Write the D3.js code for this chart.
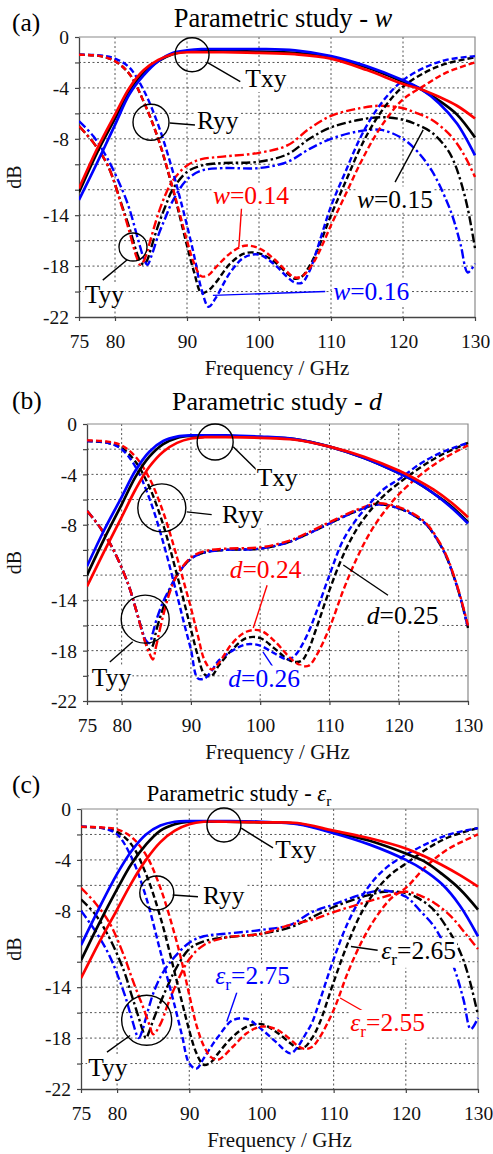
<!DOCTYPE html>
<html><head><meta charset="utf-8">
<script src="https://cdn.jsdelivr.net/npm/d3@7"></script>
<style>
body{margin:0;background:#fff}
svg{display:block}
text{font-family:"Liberation Serif","Times New Roman",serif}
</style>
</head><body>
<svg id="chart" width="493" height="1154"></svg>
<script>
// ---------------- DATA ----------------
const xTicks = [75, 80, 90, 100, 110, 120, 130];
const xGrid = [80, 90, 100, 110, 120];
const yGrid = [-2, -4, -6, -8, -10, -12, -14, -16, -18, -20];
const yTickMarks = [0, -2, -4, -6, -8, -10, -12, -14, -16, -18, -20, -22];
const yTickLabels = [0, -4, -8, -14, -18, -22];
const seriesColors = ["black", "blue", "red"];

const freqTxy = [75, 77.5, 80, 82, 84, 86, 88, 90, 92, 95, 100, 105, 110, 115, 120, 122.5, 125, 127.5, 130];
const freqRyy = [75, 78, 80, 82, 84, 86, 88, 89, 90, 91, 92, 93, 94, 96, 98, 100, 102, 104, 105, 106, 107, 108, 110, 112, 114, 116, 118, 120, 123, 126, 130];
const freqTyy = [75, 77, 79, 81, 82, 83, 83.5, 84, 84.5, 85, 86, 87, 88, 90, 92, 95, 100, 104, 107, 110, 114, 117, 120, 122, 124, 126, 127, 128, 129, 130];

// (a) parametric study - w   (red 0.14, black 0.15, blue 0.16)
const txyA_red   = [-11.9,-8.8,-6.1,-4.0,-2.6,-1.8,-1.35,-1.2,-1.2,-1.2,-1.25,-1.35,-1.7,-2.6,-3.7,-4.1,-4.7,-5.4,-6.4];
const txyA_black = [-12.2,-9.1,-6.4,-4.2,-2.8,-1.9,-1.35,-1.15,-1.1,-1.1,-1.15,-1.25,-1.6,-2.4,-3.5,-4.1,-5.0,-6.1,-7.9];
const txyA_blue  = [-12.8,-9.9,-6.9,-4.5,-3.0,-1.9,-1.25,-1.05,-0.95,-0.95,-0.95,-1.05,-1.5,-2.3,-3.4,-4.1,-5.2,-6.8,-9.3];
const ryyA_red   = [-1.4,-1.5,-1.9,-2.9,-5.1,-8.0,-11.8,-13.9,-16.0,-17.8,-18.8,-18.7,-18.1,-17.0,-16.4,-16.6,-17.4,-18.5,-18.9,-18.8,-18.2,-17.3,-14.8,-12.4,-10.0,-7.9,-6.2,-4.9,-3.8,-2.8,-2.0];
const ryyA_black = [-1.4,-1.5,-1.9,-2.9,-5.1,-8.0,-11.9,-14.1,-16.4,-18.5,-20.1,-19.9,-19.3,-17.8,-17.0,-17.0,-17.6,-18.6,-19.0,-18.8,-18.0,-16.9,-14.0,-11.4,-8.8,-6.7,-5.1,-3.9,-2.8,-2.1,-1.6];
const ryyA_blue  = [-1.4,-1.45,-1.7,-2.4,-4.2,-6.9,-10.5,-12.6,-14.8,-17.2,-19.8,-21.2,-20.5,-18.5,-17.3,-17.1,-17.8,-18.9,-19.3,-19.3,-18.4,-16.8,-13.3,-10.6,-8.0,-6.0,-4.5,-3.4,-2.4,-1.8,-1.5];
const tyyA_red   = [-7.0,-8.3,-10.1,-13.4,-15.3,-17.3,-17.9,-17.6,-16.8,-15.8,-13.9,-12.4,-11.3,-10.1,-9.6,-9.4,-9.1,-8.5,-7.2,-6.2,-5.6,-5.4,-5.6,-6.0,-6.5,-7.4,-8.0,-8.8,-9.8,-11.0];
const tyyA_black = [-7.0,-8.3,-10.1,-13.3,-15.0,-16.9,-17.6,-17.9,-17.5,-16.6,-14.8,-13.3,-12.0,-10.6,-10.1,-9.9,-9.8,-9.2,-8.0,-7.1,-6.5,-6.3,-6.5,-6.9,-7.5,-8.7,-9.7,-11.3,-13.5,-16.6];
const tyyA_blue  = [-6.6,-7.8,-9.6,-12.0,-13.5,-15.5,-16.5,-17.4,-17.9,-17.3,-15.6,-14.2,-12.9,-11.2,-10.5,-10.3,-10.3,-9.8,-8.8,-8.0,-7.4,-7.3,-8.0,-9.0,-10.5,-12.8,-14.3,-16.3,-18.5,-17.8];

// (b) parametric study - d   (red 0.24, black 0.25, blue 0.26)
const txyB_red   = [-12.9,-10.1,-7.4,-5.2,-3.4,-2.2,-1.5,-1.15,-1.05,-1.05,-1.1,-1.25,-1.8,-2.6,-3.7,-4.4,-5.2,-6.2,-7.4];
const txyB_black = [-12.0,-9.1,-6.4,-4.2,-2.6,-1.6,-1.1,-0.95,-0.95,-0.95,-1.05,-1.2,-1.8,-2.7,-3.9,-4.6,-5.5,-6.5,-7.8];
const txyB_blue  = [-11.3,-8.4,-5.8,-3.7,-2.2,-1.35,-1.0,-0.9,-0.9,-0.9,-1.0,-1.2,-1.8,-2.7,-3.9,-4.6,-5.5,-6.6,-7.9];
const ryyB_red   = [-1.3,-1.4,-1.7,-2.6,-4.3,-7.0,-10.6,-12.6,-14.6,-16.8,-18.8,-19.5,-19.0,-17.4,-16.5,-16.4,-17.2,-18.4,-18.9,-19.2,-19.2,-18.5,-16.2,-13.2,-10.6,-8.5,-6.9,-5.6,-4.1,-2.9,-1.7];
const ryyB_black = [-1.35,-1.5,-1.9,-3.0,-5.0,-8.0,-12.0,-14.1,-16.3,-18.4,-19.9,-20.0,-19.2,-17.9,-17.0,-17.0,-17.8,-18.7,-18.9,-18.8,-17.9,-16.4,-13.2,-10.4,-8.3,-6.8,-5.6,-4.7,-3.5,-2.5,-1.5];
const ryyB_blue  = [-1.35,-1.5,-2.0,-3.4,-5.9,-9.4,-13.6,-15.8,-17.9,-20.2,-20.2,-19.6,-18.8,-18.0,-17.5,-17.6,-18.2,-18.7,-18.4,-17.6,-16.5,-15.1,-12.0,-9.2,-7.5,-6.2,-5.1,-4.4,-3.2,-2.3,-1.5];
const tyyB_red   = [-6.9,-8.3,-10.2,-12.8,-14.6,-16.6,-17.5,-18.2,-18.7,-17.6,-15.2,-13.3,-12.0,-10.6,-10.1,-9.9,-9.8,-9.3,-8.6,-7.8,-6.8,-6.3,-6.6,-7.1,-7.9,-9.5,-10.6,-12.1,-13.9,-16.0];
const tyyB_black = [-6.9,-8.3,-10.2,-12.8,-14.6,-16.5,-17.4,-17.9,-17.6,-16.4,-14.6,-13.1,-12.0,-10.7,-10.2,-10.0,-9.9,-9.4,-8.7,-7.9,-6.9,-6.4,-6.7,-7.2,-8.0,-9.6,-10.7,-12.2,-14.0,-16.2];
const tyyB_blue  = [-6.9,-8.3,-10.2,-12.8,-14.6,-16.5,-17.2,-17.4,-16.6,-15.6,-14.1,-13.0,-12.0,-10.7,-10.2,-10.0,-9.9,-9.4,-8.7,-7.9,-6.9,-6.4,-6.7,-7.2,-8.0,-9.6,-10.7,-12.2,-14.0,-16.2];

// (c) parametric study - eps_r   (red 2.55, black 2.65, blue 2.75)
const txyC_red   = [-13.3,-10.5,-7.9,-5.8,-4.0,-2.6,-1.7,-1.2,-1.0,-1.0,-1.05,-1.1,-1.7,-2.3,-3.1,-3.7,-4.4,-5.2,-6.1];
const txyC_black = [-11.9,-9.0,-6.3,-4.3,-2.8,-1.7,-1.2,-1.0,-1.0,-1.0,-1.05,-1.15,-1.8,-2.5,-3.5,-4.1,-5.1,-6.3,-7.9];
const txyC_blue  = [-10.7,-7.8,-5.1,-3.3,-2.0,-1.3,-1.0,-0.95,-0.95,-0.95,-1.0,-1.2,-1.9,-2.8,-4.0,-4.8,-5.9,-7.6,-10.0];
const ryyC_red   = [-1.4,-1.45,-1.6,-2.2,-3.6,-6.2,-9.9,-12.1,-14.6,-17.0,-18.6,-19.5,-19.7,-18.7,-17.6,-17.1,-17.3,-18.1,-18.6,-18.85,-18.7,-18.0,-15.8,-12.8,-10.3,-8.4,-7.0,-6.2,-4.4,-3.1,-2.0];
const ryyC_black = [-1.4,-1.5,-1.8,-2.8,-5.1,-8.5,-12.9,-15.2,-17.4,-19.2,-20.1,-19.9,-19.2,-17.9,-17.1,-16.9,-17.5,-18.4,-18.8,-18.7,-18.0,-16.9,-13.6,-10.5,-8.0,-6.3,-5.1,-4.3,-3.1,-2.2,-1.5];
const ryyC_blue  = [-1.4,-1.5,-2.0,-3.8,-6.9,-11.2,-15.5,-17.8,-20.0,-20.4,-19.6,-18.7,-17.9,-16.6,-16.5,-17.3,-18.3,-19.2,-18.7,-17.8,-16.8,-15.2,-11.8,-8.9,-6.8,-5.3,-4.3,-3.6,-2.7,-2.0,-1.5];
const tyyC_red   = [-6.2,-7.4,-9.0,-11.6,-13.2,-14.7,-15.4,-16.2,-17.0,-17.7,-16.9,-15.4,-14.0,-11.8,-10.7,-10.1,-9.8,-9.1,-8.7,-8.1,-7.4,-6.9,-6.5,-6.8,-7.4,-8.3,-8.9,-9.6,-10.3,-11.0];
const tyyC_black = [-7.1,-8.3,-10.2,-12.8,-14.6,-16.4,-17.3,-18.0,-17.4,-16.6,-15.2,-13.9,-12.7,-11.0,-10.4,-10.1,-9.8,-9.3,-8.5,-7.7,-6.9,-6.5,-6.6,-7.1,-8.0,-9.6,-10.6,-11.9,-13.8,-16.2];
const tyyC_blue  = [-8.0,-9.6,-11.6,-14.5,-16.4,-18.0,-17.4,-16.4,-15.4,-14.5,-13.2,-12.3,-11.6,-10.5,-10.0,-9.8,-9.5,-9.1,-8.1,-7.5,-6.7,-6.4,-6.9,-8.0,-9.3,-11.5,-13.0,-15.0,-17.3,-16.4];

// ---------------- LAYOUT / STYLE ----------------
const COLORS = {black: "#000000", blue: "#0000ff", red: "#ff0000"};
const FONT_TICK = 19.5, FONT_ANN = 25.5;

const panels = [
  {label: "(a)", labelBase: 31, l: 79, t: 37, r: 475, b: 317,
   titleMain: "Parametric study - ", titleVar: [["w", "i"]], titleX: 283, titleBase: 27, titleSize: 26.5,
   txy: [txyA_black, txyA_blue, txyA_red], ryy: [ryyA_black, ryyA_blue, ryyA_red], tyy: [tyyA_black, tyyA_blue, tyyA_red],
   circles: [[90.7, -1.4, 17], [85.0, -6.7, 18], [82.5, -16.5, 14]],
   leaders: [[92.8, -2.0, 97.4, -3.5, "black"], [87.6, -6.76, 91.1, -6.91, "black"], [81.7, -17.5, 78.3, -19.1, "black"],
             [97.6, -13.2, 97.2, -16.5, "red"], [122.8, -7.3, 118.9, -11.4, "black"], [93.6, -20.3, 109.2, -20.0, "blue"]],
   texts: [{f: 98.1, v: -3.93, c: "black", parts: [["Txy"]]},
           {f: 91.4, v: -7.23, c: "black", parts: [["Ryy"]]},
           {f: 75.8, v: -20.9, c: "black", parts: [["Tyy"]]},
           {f: 93.6, v: -13.1, c: "red", parts: [["w", "i"], ["=0.14"]]},
           {f: 113.6, v: -13.4, c: "black", parts: [["w", "i"], ["=0.15"]]},
           {f: 110.3, v: -20.7, c: "blue", parts: [["w", "i"], ["=0.16"]]}]},
  {label: "(b)", labelBase: 409, l: 87, t: 424, r: 468, b: 701,
   titleMain: "Parametric study - ", titleVar: [["d", "i"]], titleX: 277, titleBase: 410, titleSize: 26,
   txy: [txyB_black, txyB_blue, txyB_red], ryy: [ryyB_black, ryyB_blue, ryyB_red], tyy: [tyyB_black, tyyB_blue, tyyB_red],
   circles: [[93.5, -1.43, 18], [85.8, -6.66, 24], [83.4, -15.5, 24]],
   leaders: [[96.1, -1.8, 99.5, -3.65, "black"], [89.4, -6.98, 93.0, -7.2, "black"], [81.6, -17.3, 78.3, -18.9, "black"],
             [101.0, -12.8, 99.0, -16.2, "red"], [112.0, -11.2, 118.45, -13.6, "black"], [102.1, -19.5, 100.4, -18.1, "blue"]],
   texts: [{f: 99.5, v: -4.9, c: "black", parts: [["Txy"]]},
           {f: 94.5, v: -7.9, c: "black", parts: [["Ryy"]]},
           {f: 75.7, v: -20.8, c: "black", parts: [["Tyy"]]},
           {f: 95.6, v: -12.2, c: "red", parts: [["d", "i"], ["=0.24"]]},
           {f: 115.4, v: -15.9, c: "black", parts: [["d", "i"], ["=0.25"]]},
           {f: 95.4, v: -20.85, c: "blue", parts: [["d", "i"], ["=0.26"]]}]},
  {label: "(c)", labelBase: 793, l: 81, t: 809, r: 478, b: 1089,
   titleMain: "Parametric study - ", titleVar: [["ε", "i"], ["r", "sub"]], titleX: 239, titleBase: 801, titleSize: 22.5,
   txy: [txyC_black, txyC_blue, txyC_red], ryy: [ryyC_black, ryyC_blue, ryyC_red], tyy: [tyyC_black, tyyC_blue, tyyC_red],
   circles: [[94.8, -1.26, 17], [85.5, -6.6, 17], [84.1, -16.6, 25]],
   leaders: [[97.2, -1.5, 101.6, -3.06, "black"], [87.7, -6.76, 91.2, -6.9, "black"], [81.8, -17.8, 78.6, -19.1, "black"],
             [96.6, -14.4, 95.2, -16.7, "blue"], [110.9, -14.85, 114.3, -15.95, "red"], [112.4, -10.8, 116.1, -11.1, "black"]],
   texts: [{f: 101.9, v: -3.85, c: "black", parts: [["Txy"]]},
           {f: 91.9, v: -7.46, c: "black", parts: [["Ryy"]]},
           {f: 76.0, v: -20.98, c: "black", parts: [["Tyy"]]},
           {f: 93.6, v: -13.75, c: "blue", parts: [["ε", "i"], ["r", "sub"], ["=2.75"]]},
           {f: 112.3, v: -17.44, c: "red", parts: [["ε", "i"], ["r", "sub"], ["=2.55"]]},
           {f: 116.6, v: -11.8, c: "black", parts: [["ε", "i"], ["r", "sub"], ["=2.65"]]}]}
];

const svg = d3.select("#chart");

function addParts(textSel, parts, size) {
  let shift = 0;
  parts.forEach(([s, st]) => {
    const ts = textSel.append("tspan").text(s);
    if (st === "i") ts.attr("font-style", "italic");
    if (st === "sub") { ts.attr("font-size", size * 0.68).attr("dy", size * 0.22); shift += size * 0.22; }
    else if (shift) { ts.attr("dy", -shift); shift = 0; }
  });
}

panels.forEach((p, pi) => {
  const x = d3.scaleLinear().domain([75, 130]).range([p.l, p.r]);
  const y = d3.scaleLinear().domain([0, -22]).range([p.t, p.b]);
  const g = svg.append("g");

  // panel label & title
  g.append("text").attr("x", 12).attr("y", p.labelBase).attr("font-size", 25.5).text(p.label);
  const tt = g.append("text").attr("x", p.titleX).attr("y", p.titleBase).attr("text-anchor", "middle")
    .attr("font-size", p.titleSize);
  tt.append("tspan").text(p.titleMain);
  addParts(tt, p.titleVar, p.titleSize);

  // grid
  g.selectAll(null).data(xGrid).join("line")
    .attr("x1", d => x(d)).attr("x2", d => x(d)).attr("y1", y(0)).attr("y2", y(-22))
    .attr("stroke", "#555").attr("stroke-width", 1).attr("stroke-dasharray", "2,2.5");
  g.selectAll(null).data(yGrid).join("line")
    .attr("x1", x(75)).attr("x2", x(130)).attr("y1", d => y(d)).attr("y2", d => y(d))
    .attr("stroke", "#555").attr("stroke-width", 1).attr("stroke-dasharray", "2,2.5");
  // frame top/right
  g.append("path").attr("d", `M${x(75)},${y(0)}H${x(130)}V${y(-22)}`)
    .attr("fill", "none").attr("stroke", "#8a8a8a").attr("stroke-width", 1.2);

  // axes
  const xa = g.append("g").attr("transform", `translate(0,${p.b})`)
    .call(d3.axisBottom(x).tickValues(xTicks).tickSize(4).tickSizeOuter(0).tickFormat(d => String(d)));
  const ya = g.append("g").attr("transform", `translate(${p.l},0)`)
    .call(d3.axisLeft(y).tickValues(yTickMarks).tickSize(4).tickSizeOuter(0)
      .tickFormat(d => yTickLabels.includes(d) ? String(d) : ""));
  [xa, ya].forEach(a => {
    a.select(".domain").attr("stroke", "#444").attr("stroke-width", 1.3);
    a.selectAll(".tick line").attr("stroke", "#444").attr("stroke-width", 1.2);
    a.selectAll("text").attr("font-family", "Liberation Serif").attr("font-size", FONT_TICK).attr("fill", "#111");
  });
  xa.selectAll("text").attr("dy", null).attr("y", 31);
  ya.selectAll("text").attr("x", -10).attr("dy", "0.34em");

  g.append("text").attr("x", (p.l + p.r) / 2).attr("y", p.b + 58).attr("text-anchor", "middle")
    .attr("font-size", 21).attr("fill", "#111").text("Frequency / GHz");
  g.append("text").attr("transform", `translate(21,${(p.t + p.b) / 2}) rotate(-90)`)
    .attr("text-anchor", "middle").attr("font-size", 20).attr("fill", "#111").text("dB");

  // curves
  const clipId = "clip" + pi;
  svg.append("clipPath").attr("id", clipId).append("rect")
    .attr("x", p.l).attr("y", p.t - 2).attr("width", p.r - p.l + 1).attr("height", p.b - p.t + 4);
  const cg = g.append("g").attr("clip-path", `url(#${clipId})`);
  const line = d3.line().x(d => x(d[0])).y(d => y(d[1])).curve(d3.curveCatmullRom.alpha(0.5));
  const groups = [
    {freq: freqTyy, sets: p.tyy, dash: "9,3,2.5,3", w: 2.4},
    {freq: freqRyy, sets: p.ryy, dash: "6,3", w: 2.4},
    {freq: freqTxy, sets: p.txy, dash: null, w: 2.7}
  ];
  groups.forEach(gr => {
    gr.sets.forEach((vals, ci) => {
      const pts = gr.freq.map((f, i) => [f, vals[i]]);
      cg.append("path").attr("d", line(pts)).attr("fill", "none")
        .attr("stroke", COLORS[seriesColors[ci]]).attr("stroke-width", gr.w)
        .attr("stroke-dasharray", gr.dash);
    });
  });

  // annotations
  const ag = g.append("g");
  p.circles.forEach(([f, v, r]) => {
    ag.append("circle").attr("cx", x(f)).attr("cy", y(v)).attr("r", r)
      .attr("fill", "none").attr("stroke", "#000").attr("stroke-width", 1.4);
  });
  p.leaders.forEach(([f1, v1, f2, v2, c]) => {
    ag.append("line").attr("x1", x(f1)).attr("y1", y(v1)).attr("x2", x(f2)).attr("y2", y(v2))
      .attr("stroke", COLORS[c]).attr("stroke-width", 1.4);
  });
  p.texts.forEach(t => {
    const tg = ag.append("g");
    const te = tg.append("text").attr("x", x(t.f)).attr("y", y(t.v)).attr("font-size", FONT_ANN)
      .attr("fill", COLORS[t.c]);
    addParts(te, t.parts, FONT_ANN);
    const bb = te.node().getBBox();
    tg.insert("rect", "text").attr("x", bb.x - 1).attr("y", bb.y + 2).attr("width", bb.width + 2)
      .attr("height", bb.height - 3).attr("fill", "#fff");
  });
});
</script>
</body></html>
